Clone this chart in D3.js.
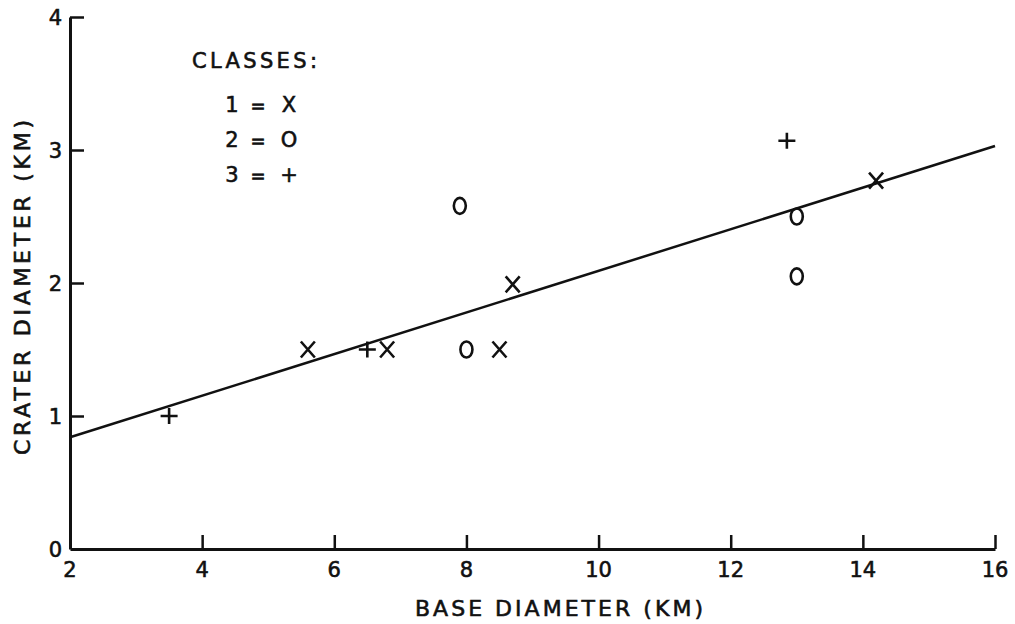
<!DOCTYPE html>
<html>
<head>
<meta charset="utf-8">
<script src="https://cdn.jsdelivr.net/npm/d3@7"></script>
<style>
  body { margin: 0; background: #fff; }
  svg text { font-family: "DejaVu Sans", sans-serif; fill: #111; stroke: #111; stroke-width: 0.6px; }
</style>
</head>
<body>
<div id="chart"></div>
<script>
// base diameter (km), crater diameter (km), class
var baseDiam   = [3.5, 5.6, 6.5, 6.8, 8.0, 8.5, 7.9, 8.7, 12.85, 13.0, 13.0, 14.2];
var craterDiam = [1.0, 1.5, 1.5, 1.5, 1.5, 1.5, 2.58, 1.99, 3.07, 2.5, 2.05, 2.77];
var classes    = [3,   1,   3,   1,   2,   1,   2,    1,    3,    2,   2,    1];

var xTicks = [2, 4, 6, 8, 10, 12, 14, 16];
var yTicks = [0, 1, 2, 3, 4];
var fitLine = [[2, 0.84], [16, 3.03]];
var legendRows = [["1", "X"], ["2", "O"], ["3", "+"]];

var width = 1015, height = 624;
var x = d3.scaleLinear().domain([2, 16]).range([70, 995]);
var y = d3.scaleLinear().domain([0, 4]).range([549, 17]);

var svg = d3.select("#chart").append("svg")
    .attr("width", width)
    .attr("height", height);

// axes with inward ticks
var xAxis = svg.append("g")
    .attr("transform", "translate(0," + y(0) + ")")
    .call(d3.axisTop(x).tickValues(xTicks).tickSize(14).tickSizeOuter(0).tickFormat(""));
var yAxis = svg.append("g")
    .attr("transform", "translate(" + x(2) + ",0)")
    .call(d3.axisRight(y).tickValues(yTicks).tickSize(14).tickSizeOuter(0).tickFormat(""));

svg.selectAll(".domain").attr("stroke", "#111").attr("stroke-width", 3);
svg.selectAll(".tick line").attr("stroke", "#111").attr("stroke-width", 2.5);
// no tick on the corner
xAxis.selectAll(".tick").filter(function(d) { return d === 2; }).remove();
yAxis.selectAll(".tick").filter(function(d) { return d === 0; }).remove();

// tick labels
svg.selectAll(".xlab")
    .data(xTicks)
    .enter().append("text")
    .attr("class", "xlab")
    .attr("x", function(d) { return x(d); })
    .attr("y", 577)
    .attr("text-anchor", "middle")
    .style("font-size", "21px")
    .text(function(d) { return d; });

svg.selectAll(".ylab")
    .data(yTicks)
    .enter().append("text")
    .attr("class", "ylab")
    .attr("x", 62)
    .attr("y", function(d) { return y(d) + 8; })
    .attr("text-anchor", "end")
    .style("font-size", "21px")
    .text(function(d) { return d; });

// axis titles
svg.append("text")
    .attr("x", 415)
    .attr("y", 616)
    .attr("textLength", 288)
    .attr("lengthAdjust", "spacing")
    .style("font-size", "22px")
    .text("BASE DIAMETER (KM)");

svg.append("text")
    .attr("transform", "translate(30,455) rotate(-90)")
    .attr("textLength", 335)
    .attr("lengthAdjust", "spacing")
    .style("font-size", "22px")
    .text("CRATER  DIAMETER  (KM)");

// regression line
svg.append("path")
    .datum(fitLine)
    .attr("d", d3.line().x(function(d) { return x(d[0]); }).y(function(d) { return y(d[1]); }))
    .attr("fill", "none")
    .attr("stroke", "#111")
    .attr("stroke-width", 2.5);

// marker shapes
function markerPath(c) {
  if (c === 1) return "M-7,-8L7,8M7,-8L-7,8";
  if (c === 3) return "M-8.5,0L8.5,0M0,-8L0,8";
  return null;
}

var pts = baseDiam.map(function(b, i) { return {x: b, y: craterDiam[i], c: classes[i]}; });

svg.selectAll(".pt")
    .data(pts.filter(function(d) { return d.c !== 2; }))
    .enter().append("path")
    .attr("class", "pt")
    .attr("transform", function(d) { return "translate(" + x(d.x) + "," + y(d.y) + ")"; })
    .attr("d", function(d) { return markerPath(d.c); })
    .attr("fill", "none")
    .attr("stroke", "#111")
    .attr("stroke-width", 2.6);

svg.selectAll(".circ")
    .data(pts.filter(function(d) { return d.c === 2; }))
    .enter().append("ellipse")
    .attr("class", "circ")
    .attr("cx", function(d) { return x(d.x); })
    .attr("cy", function(d) { return y(d.y); })
    .attr("rx", 6)
    .attr("ry", 8)
    .attr("fill", "none")
    .attr("stroke", "#111")
    .attr("stroke-width", 2.6);

// legend
svg.append("text")
    .attr("x", 192)
    .attr("y", 68)
    .attr("textLength", 125)
    .attr("lengthAdjust", "spacing")
    .style("font-size", "21px")
    .text("CLASSES:");

var leg = svg.selectAll(".leg")
    .data(legendRows)
    .enter().append("g")
    .attr("class", "leg")
    .attr("transform", function(d, i) { return "translate(0," + (112 + i * 35) + ")"; });
leg.append("text").attr("x", 232).attr("text-anchor", "middle").style("font-size", "21px")
    .text(function(d) { return d[0]; });
leg.append("text").attr("x", 258).attr("text-anchor", "middle").style("font-size", "18px")
    .text("=");
leg.append("text").attr("x", 289).attr("text-anchor", "middle").style("font-size", "21px")
    .text(function(d) { return d[1]; });
</script>
</body>
</html>
